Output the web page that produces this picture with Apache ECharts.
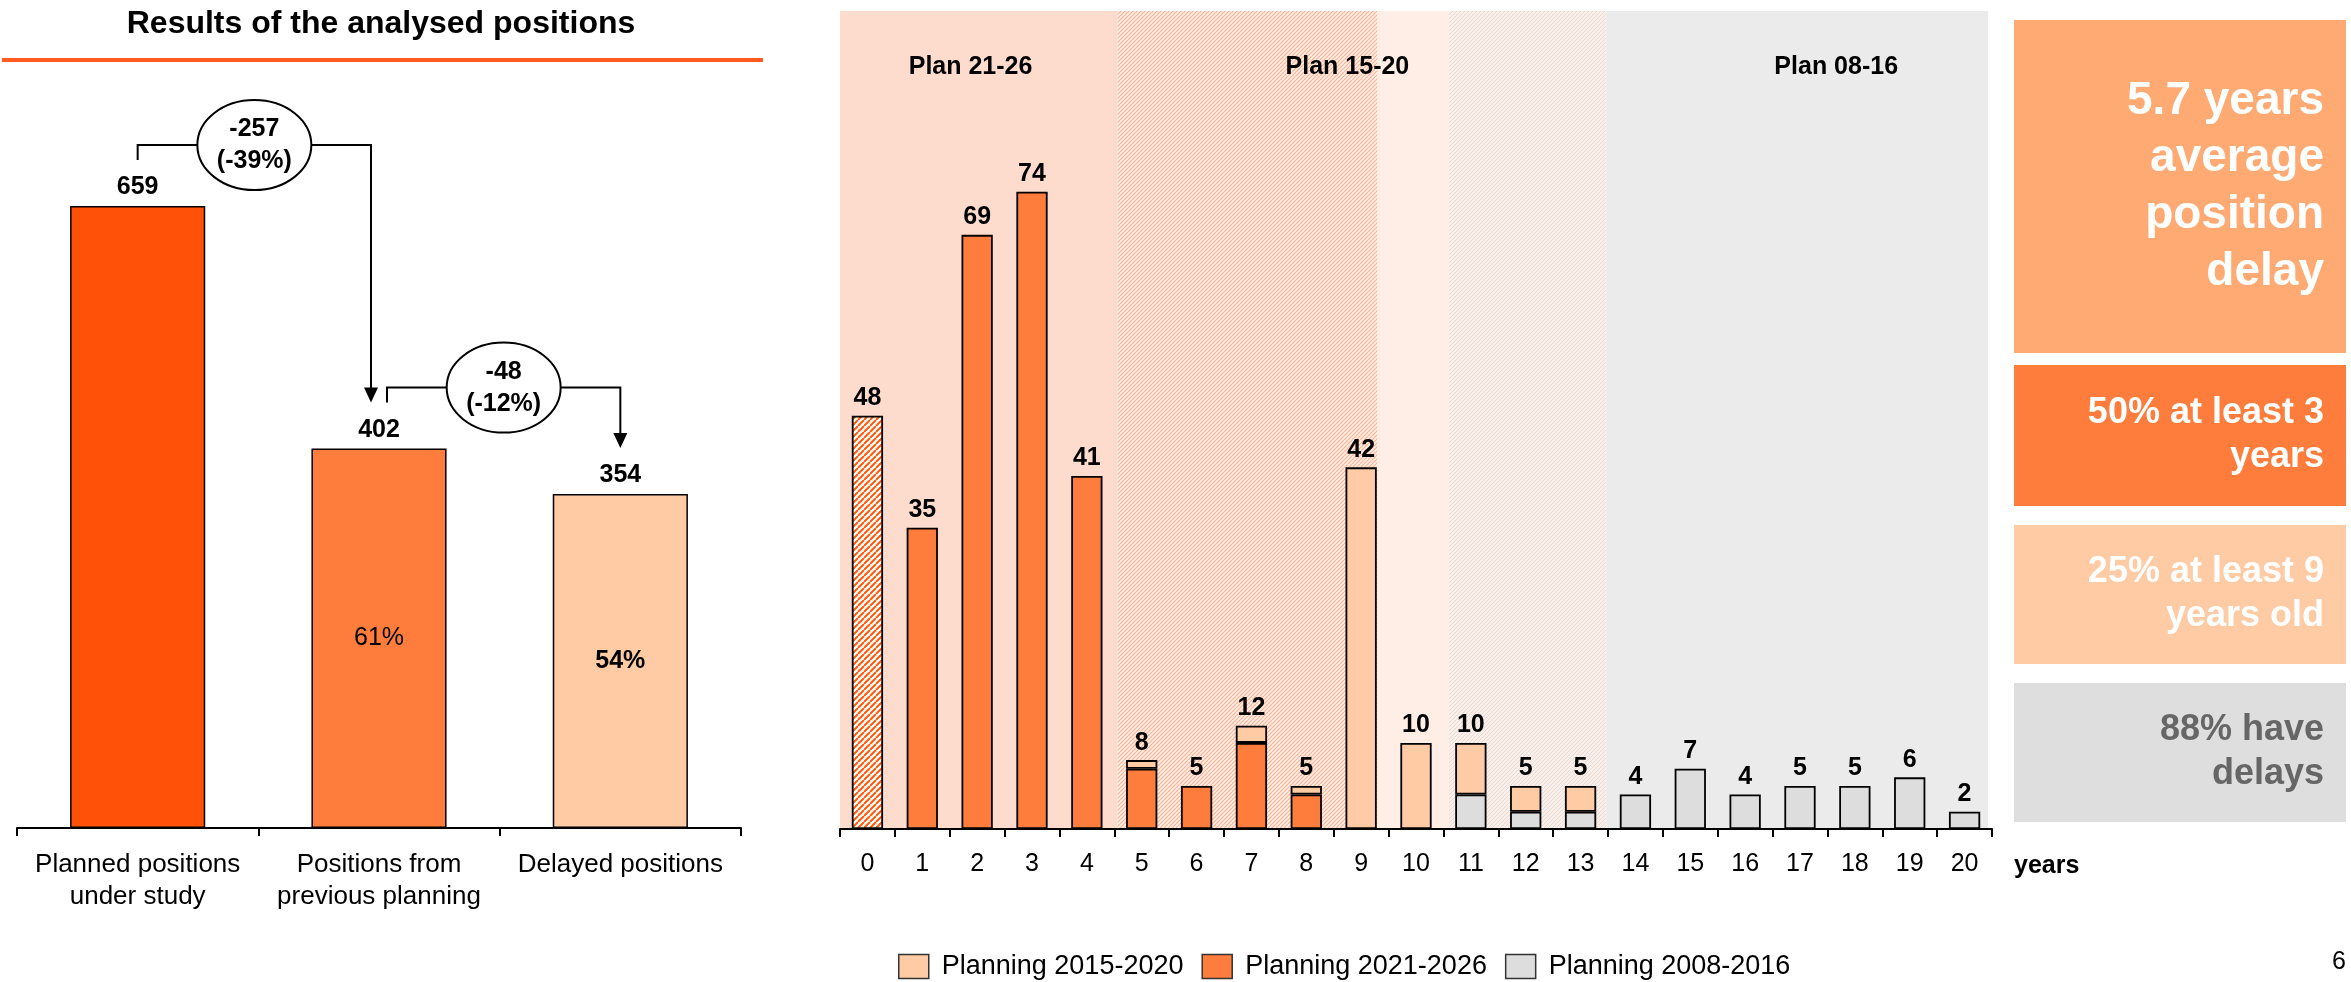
<!DOCTYPE html>
<html>
<head>
<meta charset="utf-8">
<script src="https://cdn.jsdelivr.net/npm/echarts@6/dist/echarts.min.js"></script>
<style>
html, body { margin: 0; background: #fff; }
#main { width: 2351px; height: 982px; }
</style>
</head>
<body>
<div id="main"></div>
<script>
var FONT = '"Liberation Sans", Arial, sans-serif';

// left panel: funnel of positions
var stages = ['Planned positions\nunder study', 'Positions from\nprevious planning', 'Delayed positions'];
var stageValues = [659, 402, 354];
var stageShares = ['', '61%', '54%'];
var stepLabels = ['-257\n(-39%)', '-48\n(-12%)'];

// middle panel: delay in years, by planning
var years = ['0', '1', '2', '3', '4', '5', '6', '7', '8', '9', '10',
             '11', '12', '13', '14', '15', '16', '17', '18', '19', '20'];
var plan0816 = [0, 0, 0, 0, 0, 0, 0, 0, 0, 0, 0, 4, 2, 2, 4, 7, 4, 5, 5, 6, 2];
var plan2126 = [48, 35, 69, 74, 41, 7, 5, 10, 4, 0, 0, 0, 0, 0, 0, 0, 0, 0, 0, 0, 0];
var plan1520 = [0, 0, 0, 0, 0, 1, 0, 2, 1, 42, 10, 6, 3, 3, 0, 0, 0, 0, 0, 0, 0];
var bandTitles = ['Plan 21-26', 'Plan 15-20', 'Plan 08-16'];

// right panel
var notes = ['5.7 years\naverage\nposition\ndelay', '50% at least 3\nyears', '25% at least 9\nyears old', '88% have\ndelays'];

function hatch(bg, fg, size, w) {
    var c = document.createElement('canvas');
    c.width = c.height = size;
    var g = c.getContext('2d');
    g.fillStyle = bg;
    g.fillRect(0, 0, size, size);
    g.strokeStyle = fg;
    g.lineWidth = w;
    g.beginPath();
    for (var k = -1; k <= 1; k++) {
        g.moveTo(k * size, size);
        g.lineTo(k * size + size, 0);
    }
    g.stroke();
    return {image: c, repeat: 'repeat'};
}

var chart = echarts.init(document.getElementById('main'));

var totals = years.map(function (y, i) { return plan0816[i] + plan2126[i] + plan1520[i]; });
var stackOrder = [plan0816, plan2126, plan1520];

// only the top segment of a stack carries the total
function topLabel(k) {
    return function (p) {
        var top = -1;
        stackOrder.forEach(function (arr, j) { if (arr[p.dataIndex] > 0) top = j; });
        return top === k ? String(totals[p.dataIndex]) : '';
    };
}
function nz(arr) {
    return arr.map(function (v) { return v > 0 ? v : null; });
}

var stageColors = ['#FF5208', '#FE7C3C', '#FFCBA4'];
var axisLine = {show: true, lineStyle: {color: '#000', width: 2}};
var axisTick = {show: true, length: 8, interval: 0, alignWithLabel: false, lineStyle: {color: '#000', width: 2}};
var barBorder = {borderColor: '#000', borderWidth: 1.8};
var valueLabel = {show: true, position: 'top', distance: 5, color: '#000', fontWeight: 'bold', fontSize: 25, fontFamily: FONT};

var recent = nz(plan2126);
recent[0] = {value: plan2126[0], itemStyle: {color: hatch('#ffffff', '#FF5A0A', 6, 2)}};

var option = {
    animation: false,
    textStyle: {fontFamily: FONT},
    grid: [
        {left: 17, top: 73, width: 724, height: 755},
        {left: 840, top: 11, width: 1152, height: 818}
    ],
    xAxis: [
        {type: 'category', gridIndex: 0, data: stages, z: 5, axisLine: axisLine, axisTick: axisTick,
            axisLabel: {interval: 0, color: '#000', fontSize: 26, lineHeight: 32, margin: 21}},
        {type: 'category', gridIndex: 1, data: years, z: 5, axisLine: axisLine, axisTick: axisTick,
            axisLabel: {interval: 0, color: '#000', fontSize: 25, lineHeight: 30, margin: 20}},
        {type: 'value', gridIndex: 1, min: -0.5, max: 20.5, show: false}
    ],
    yAxis: [
        {type: 'value', gridIndex: 0, min: 0, max: 800, show: false},
        {type: 'value', gridIndex: 1, min: 0, max: 95, show: false}
    ],
    legend: {
        data: ['Planning 2015-2020', 'Planning 2021-2026', 'Planning 2008-2016'],
        left: 893, top: 948, itemWidth: 30, itemHeight: 24, itemGap: 18, icon: 'rect',
        selectedMode: false,
        itemStyle: {borderColor: '#333', borderWidth: 1.5},
        textStyle: {fontSize: 27, color: '#000', fontFamily: FONT, padding: [0, 0, 0, 8]}
    },
    series: [
        {
            name: 'positions', type: 'bar', xAxisIndex: 0, yAxisIndex: 0, barWidth: '56%',
            data: stageValues.map(function (v, i) {
                return {value: v, itemStyle: {color: stageColors[i]}};
            }),
            itemStyle: {borderColor: '#000', borderWidth: 1.5},
            label: {show: true, position: 'top', distance: 6, color: '#000', fontWeight: 'bold', fontSize: 25}
        },
        {
            name: 'shares', type: 'bar', xAxisIndex: 0, yAxisIndex: 0, barWidth: '56%', barGap: '-100%',
            silent: true,
            data: stageValues.map(function (v, i) {
                return {value: v, label: {formatter: stageShares[i], fontWeight: i === 2 ? 'bold' : 'normal'}};
            }),
            itemStyle: {color: 'rgba(0,0,0,0)', borderWidth: 0},
            label: {show: true, position: 'inside', color: '#000', fontSize: 25}
        },
        {
            name: 'bands', type: 'line', xAxisIndex: 2, yAxisIndex: 1, data: [[0, 0]],
            symbol: 'none', lineStyle: {opacity: 0}, silent: true, z: 1,
            markArea: {
                silent: true,
                data: [
                    [{xAxis: -0.5, itemStyle: {color: '#FDDCCE'}}, {xAxis: 4.56}],
                    [{xAxis: 4.56, itemStyle: {color: hatch('#FFEEE6', '#FFB393', 4, 1.2)}}, {xAxis: 9.3}],
                    [{xAxis: 9.3, itemStyle: {color: '#FEEEE5'}}, {xAxis: 10.6}],
                    [{xAxis: 10.6, itemStyle: {color: hatch('#FDEEE6', '#DEDEE2', 4, 1)}}, {xAxis: 13.47}],
                    [{xAxis: 13.47, itemStyle: {color: '#EBEBEB'}}, {xAxis: 20.43}]
                ]
            }
        },
        {
            name: 'Planning 2008-2016', type: 'bar', xAxisIndex: 1, yAxisIndex: 1, stack: 'delay',
            barWidth: '57%', data: nz(plan0816),
            itemStyle: Object.assign({color: '#DDDDDD'}, barBorder),
            label: Object.assign({formatter: topLabel(0)}, valueLabel)
        },
        {
            name: 'Planning 2021-2026', type: 'bar', xAxisIndex: 1, yAxisIndex: 1, stack: 'delay',
            barWidth: '57%', data: recent,
            itemStyle: Object.assign({color: '#FE7C3C'}, barBorder),
            label: Object.assign({formatter: topLabel(1)}, valueLabel)
        },
        {
            name: 'Planning 2015-2020', type: 'bar', xAxisIndex: 1, yAxisIndex: 1, stack: 'delay',
            barWidth: '57%', data: nz(plan1520),
            itemStyle: Object.assign({color: '#FFCBA4'}, barBorder),
            label: Object.assign({formatter: topLabel(2)}, valueLabel)
        }
    ]
};
chart.setOption(option);

// overlays: title, connectors, band titles, notes
var g = [];
g.push({type: 'text', z: 10, style: {text: 'Results of the analysed positions', x: 381, y: 24,
    align: 'center', verticalAlign: 'middle', font: 'bold 32px ' + FONT, fill: '#000'}});
g.push({type: 'rect', z: 10, shape: {x: 2, y: 58, width: 761, height: 4}, style: {fill: '#FF5A1F'}});

var cx = stageValues.map(function (v, i) { return chart.convertToPixel({xAxisIndex: 0}, i); });
var ty = stageValues.map(function (v) { return chart.convertToPixel({yAxisIndex: 0}, v); });
stepLabels.forEach(function (txt, k) {
    var x1 = cx[k] + (k > 0 ? 8 : 0);
    var x2 = cx[k + 1] - (k + 1 < stageValues.length - 1 ? 8 : 0);
    var y1 = ty[k] - 46, yh = ty[k] - 61, tip = ty[k + 1] - 46;
    g.push({type: 'polyline', z: 10, shape: {points: [[x1, y1], [x1, yh], [x2, yh], [x2, tip - 14]]},
        style: {stroke: '#000', lineWidth: 2, fill: null}});
    g.push({type: 'polygon', z: 10, shape: {points: [[x2 - 7, tip - 15], [x2 + 7, tip - 15], [x2, tip]]},
        style: {fill: '#000'}});
    var mx = (x1 + x2) / 2;
    g.push({type: 'ellipse', z: 11, shape: {cx: mx, cy: yh, rx: 57, ry: 45},
        style: {fill: '#fff', stroke: '#000', lineWidth: 2}});
    g.push({type: 'text', z: 12, style: {text: txt, x: mx, y: yh, align: 'center', verticalAlign: 'middle',
        font: 'bold 25px ' + FONT, lineHeight: 32, fill: '#000'}});
});

var bandX = [1.88, 8.75, 17.66];
bandTitles.forEach(function (t, i) {
    g.push({type: 'text', z: 10, style: {text: t, x: chart.convertToPixel({xAxisIndex: 2}, bandX[i]), y: 67,
        align: 'center', verticalAlign: 'middle', font: 'bold 25px ' + FONT, fill: '#000'}});
});
g.push({type: 'text', z: 10, style: {text: 'years', x: chart.convertToPixel({xAxisIndex: 2}, 20.5) + 22, y: 866,
    align: 'left', verticalAlign: 'middle', font: 'bold 25px ' + FONT, fill: '#000'}});

var boxes = [
    {y: 20, h: 333, fill: '#FFAA73', color: '#fff', size: 46, lh: 57},
    {y: 365, h: 141, fill: '#FE7C3C', color: '#fff', size: 36, lh: 44},
    {y: 525, h: 139, fill: '#FFCBA4', color: '#fff', size: 36, lh: 44},
    {y: 683, h: 139, fill: '#DEDEDE', color: '#666666', size: 36, lh: 44}
];
boxes.forEach(function (b, i) {
    g.push({type: 'rect', z: 10, shape: {x: 2014, y: b.y, width: 332, height: b.h}, style: {fill: b.fill}});
    g.push({type: 'text', z: 11, style: {text: notes[i], x: 2324, y: b.y + b.h / 2, align: 'right',
        verticalAlign: 'middle', font: 'bold ' + b.size + 'px ' + FONT, lineHeight: b.lh, fill: b.color}});
});
g.push({type: 'text', z: 10, style: {text: '6', x: 2346, y: 962, align: 'right', verticalAlign: 'middle',
    font: '25px ' + FONT, fill: '#000'}});

chart.setOption({graphic: g});
</script>
</body>
</html>
